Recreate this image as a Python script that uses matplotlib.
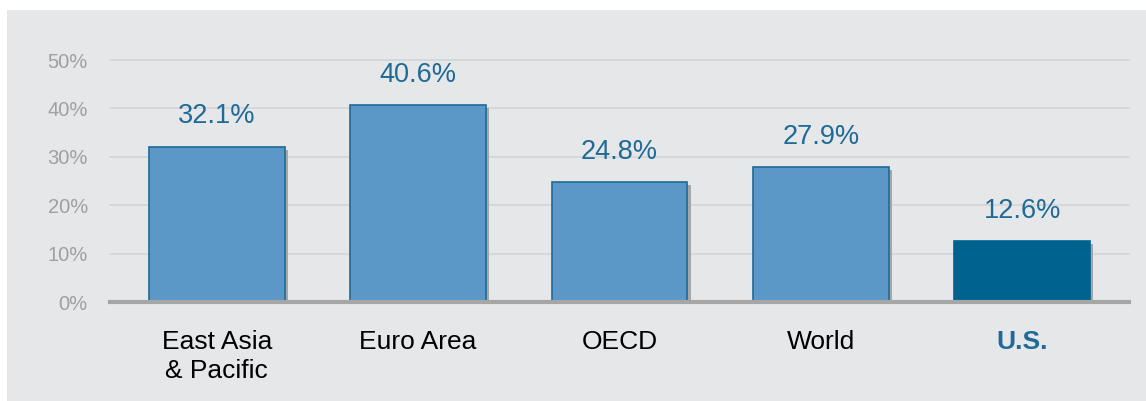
import numpy as np
import matplotlib.pyplot as plt
from matplotlib.patches import Rectangle

categories = ["East Asia\n& Pacific", "Euro Area", "OECD", "World", "U.S."]
values = [32.1, 40.6, 24.8, 27.9, 12.6]
yticks = [0, 10, 20, 30, 40, 50]

plt.rcParams['font.family'] = ['Liberation Sans', 'DejaVu Sans']

W, H = 1146, 401
fig = plt.figure(figsize=(W / 100, H / 100), dpi=100, facecolor='white')
# gray panel behind the chart
fig.patches.append(Rectangle((7 / W, 0), 1 - 7 / W, 1 - 10 / H, transform=fig.transFigure,
                             facecolor='#E6E7E9', edgecolor='none', zorder=-10))

ax = fig.add_axes([110 / W, 99 / H, (1129 - 110) / W, (302 - 60) / H])
ax.set_facecolor('none')
ax.set_zorder(5)

x = np.arange(len(categories))
colors = ['#5B97C7'] * 4 + ['#00628F']
edges = ['#1F6A96'] * 4 + ['#00628F']

# drop shadow
ax.bar(x + 0.016, np.array(values) - 0.6, width=0.675, color='#A4A6A8', zorder=2)
ax.bar(x, values, width=0.675, color=colors, edgecolor=edges, linewidth=1.2, zorder=3)

for xi, v in zip(x, values):
    ax.text(xi, v + 3.6, f"{v}%", ha='center', va='bottom', fontsize=19.5, color='#1F6A96')

ax.set_xlim(-0.53, 4.53)
ax.set_ylim(0, 50)
ax.set_yticks(yticks)
ax.set_yticklabels([f"{t}%" for t in yticks], fontsize=14.5, color='#A0A0A0')
for t in yticks:
    ax.axhline(t, color='#D2D4D6', linewidth=1.2, zorder=0, clip_on=False)
ax.axhline(0, color='#A6A6A6', linewidth=3, zorder=4, clip_on=False)

ax.set_xticks(x)
ax.set_xticklabels(categories, fontsize=19, color='black', linespacing=1.3)
lbl = ax.get_xticklabels()[-1]
lbl.set_color('#1F6A96')
lbl.set_fontweight('bold')
ax.tick_params(axis='x', length=0, pad=20)
ax.tick_params(axis='y', length=0, pad=16)
for s in ax.spines.values():
    s.set_visible(False)

fig.savefig('out.png', dpi=100, facecolor='white')
